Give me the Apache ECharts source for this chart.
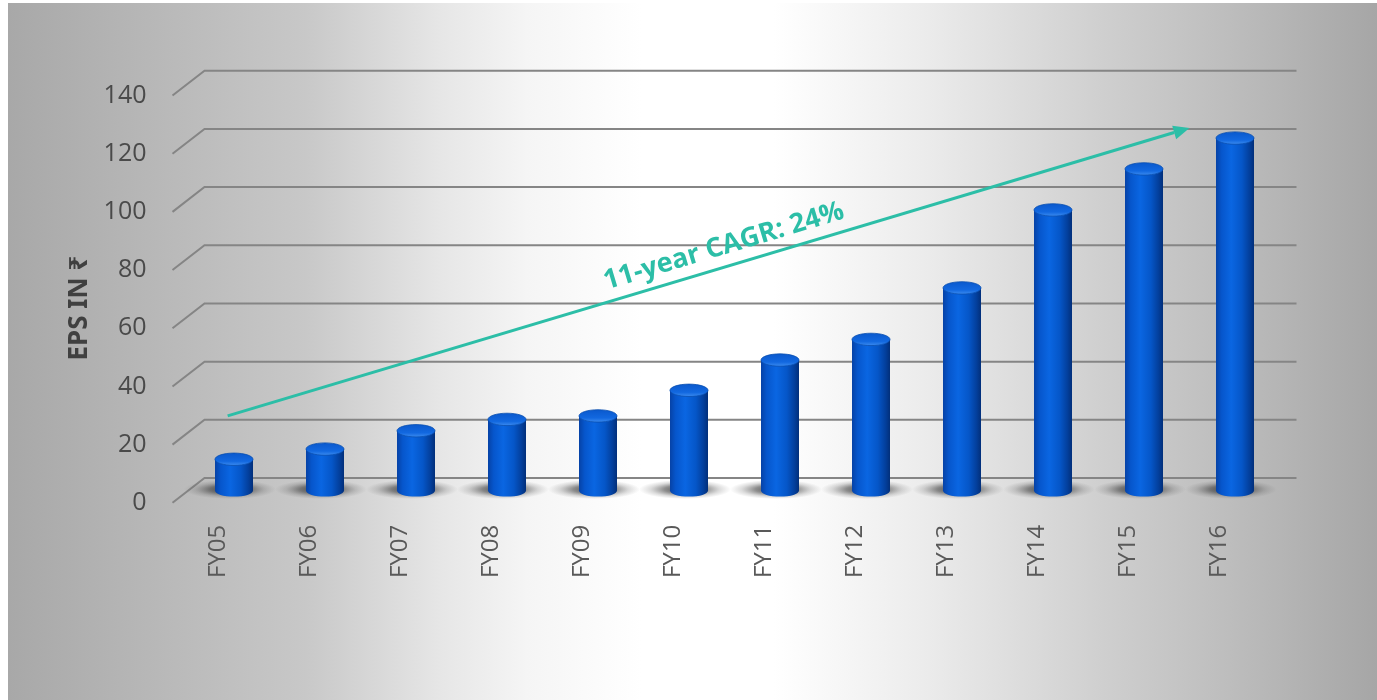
<!DOCTYPE html>
<html>
<head>
<meta charset="utf-8">
<script src="https://cdn.jsdelivr.net/npm/echarts@6/dist/echarts.min.js"></script>
<style>
  html, body { margin: 0; padding: 0; background: #ffffff; }
  #chart { width: 1377px; height: 700px; }
</style>
</head>
<body>
<div id="chart"></div>
<script>
// ---- data ----
const categories = ['FY05', 'FY06', 'FY07', 'FY08', 'FY09', 'FY10', 'FY11', 'FY12', 'FY13', 'FY14', 'FY15', 'FY16'];
const eps = [10.7, 14.2, 20.5, 24.4, 25.6, 34.4, 44.8, 51.9, 69.6, 96.4, 110.5, 121.1];
const yTicks = [0, 20, 40, 60, 80, 100, 120, 140];
const axisName = 'EPS IN ₹';
const cagrText = '11-year CAGR: 24%';
const cagrFrom = [-0.07, 25.6];
const cagrTo = [10.5, 124.6];

// ---- layout (perspective depth offsets) ----
const DX = 16, DY = 12.4;
const FONT = "'Open Sans', 'Noto Sans', sans-serif";
const TEAL = '#2cbea7';

const chart = echarts.init(document.getElementById('chart'), null, { renderer: 'canvas' });

function cylinderItem(params, api) {
  const idx = api.value(0), val = api.value(1);
  const top = api.coord([idx, val]);
  const bot = api.coord([idx, 0]);
  const x = top[0], yTop = top[1], yBot = bot[1];
  const rx = 19, ry = 6.2;
  const bodyGrad = new echarts.graphic.LinearGradient(0, 0, 1, 0, [
    { offset: 0, color: '#0642a6' },
    { offset: 0.15, color: '#0656cc' },
    { offset: 0.4, color: '#0a66e2' },
    { offset: 0.68, color: '#0556c8' },
    { offset: 0.88, color: '#033f9c' },
    { offset: 1, color: '#022f7a' }
  ]);
  const topGrad = new echarts.graphic.LinearGradient(0, 0, 0, 1, [
    { offset: 0, color: '#0a58cc' },
    { offset: 0.65, color: '#1268e0' },
    { offset: 1, color: '#3f8ef0' }
  ]);
  return {
    type: 'group',
    children: [
      {
        type: 'circle',
        x: x - 4, y: yBot - 1, scaleX: 1, scaleY: 0.21,
        shape: { cx: 0, cy: 0, r: 46 },
        style: {
          fill: new echarts.graphic.RadialGradient(0.5, 0.5, 0.5, [
            { offset: 0, color: 'rgba(30,30,30,0.85)' },
            { offset: 0.45, color: 'rgba(50,50,50,0.55)' },
            { offset: 0.75, color: 'rgba(80,80,80,0.2)' },
            { offset: 1, color: 'rgba(100,100,100,0)' }
          ])
        }
      },
      { type: 'ellipse', shape: { cx: x, cy: yBot, rx: rx, ry: ry }, style: { fill: bodyGrad } },
      { type: 'rect', shape: { x: x - rx, y: yTop, width: rx * 2, height: yBot - yTop }, style: { fill: bodyGrad } },
      { type: 'ellipse', shape: { cx: x, cy: yTop, rx: rx, ry: ry }, style: { fill: topGrad, stroke: '#0a4fb0', lineWidth: 0.8 } }
    ]
  };
}

function gridItem(params, api) {
  const cs = params.coordSys;
  const y = api.coord([0, api.value(1)])[1];
  return {
    type: 'polyline',
    shape: { points: [[cs.x - DX, y + DY], [cs.x + DX, y - DY], [cs.x + cs.width + DX, y - DY]] },
    style: { stroke: '#858585', lineWidth: 2, fill: null }
  };
}

function arrowItem(params, api) {
  const p0 = api.coord([api.value(0), api.value(1)]);
  const p1 = api.coord([api.value(2), api.value(3)]);
  const dx = p1[0] - p0[0], dy = p1[1] - p0[1];
  const len = Math.sqrt(dx * dx + dy * dy);
  const ux = dx / len, uy = dy / len;
  const nx = uy, ny = -ux; // normal pointing up-left
  const headL = 16, headW = 7;
  const base = [p1[0] - ux * headL, p1[1] - uy * headL];
  const mid = [(p0[0] + p1[0]) / 2, (p0[1] + p1[1]) / 2];
  const tx = mid[0] + ux * 22 + nx * 20;
  const ty = mid[1] + uy * 22 + ny * 20;
  const ang = Math.atan2(-dy, dx);
  return {
    type: 'group',
    children: [
      { type: 'line', shape: { x1: p0[0], y1: p0[1], x2: base[0], y2: base[1] }, style: { stroke: TEAL, lineWidth: 3 } },
      {
        type: 'polygon',
        shape: { points: [p1, [base[0] + nx * headW, base[1] + ny * headW], [base[0] - nx * headW, base[1] - ny * headW]] },
        style: { fill: TEAL }
      },
      {
        type: 'text',
        x: tx, y: ty, rotation: ang,
        style: {
          text: cagrText, fill: TEAL, font: "bold 27px 'Open Sans', 'Noto Sans', sans-serif",
          align: 'center', verticalAlign: 'middle'
        }
      }
    ]
  };
}

const midLeft = 188.5, midTop = 83.1, midW = 1092, midH = 407.3;

chart.setOption({
  backgroundColor: '#ffffff',
  animation: false,
  graphic: [{
    type: 'rect', z: -100, silent: true,
    shape: { x: 8, y: 3, width: 1369, height: 697 },
    style: {
      fill: new echarts.graphic.LinearGradient(0, 0, 1, 0, [
        { offset: 0, color: '#a8a8a8' },
        { offset: 0.218, color: '#c8c8c8' },
        { offset: 0.315, color: '#e6e6e6' },
        { offset: 0.379, color: '#f5f5f5' },
        { offset: 0.463, color: '#ffffff' },
        { offset: 0.559, color: '#ffffff' },
        { offset: 0.668, color: '#ececec' },
        { offset: 0.795, color: '#d0d0d0' },
        { offset: 0.892, color: '#bdbdbd' },
        { offset: 1, color: '#a6a6a6' }
      ])
    }
  }],
  grid: [
    { left: midLeft - DX, top: midTop + DY, width: midW, height: midH, containLabel: false },
    { left: midLeft, top: midTop, width: midW, height: midH, containLabel: false }
  ],
  xAxis: [
    {
      gridIndex: 0, type: 'category', data: categories, boundaryGap: true,
      axisLine: { show: false }, axisTick: { show: false }, splitLine: { show: false },
      axisLabel: { rotate: 90, margin: 22, fontSize: 24, color: '#595959', fontFamily: FONT, interval: 0 }
    },
    {
      gridIndex: 1, type: 'value', min: -0.5, max: 11.5, show: false,
      splitLine: { show: false }
    }
  ],
  yAxis: [
    {
      gridIndex: 0, type: 'value', min: 0, max: 140, interval: 20,
      axisLine: { show: false }, axisTick: { show: false }, splitLine: { show: false },
      axisLabel: { margin: 26, fontSize: 25, color: '#4a4a4a', fontFamily: FONT },
      name: axisName, nameLocation: 'middle', nameRotate: 90, nameGap: 67,
      nameTextStyle: { fontSize: 26, fontWeight: 'bold', color: '#404040', fontFamily: "'Noto Sans', 'Open Sans', sans-serif", padding: [0, 18, 0, 0] }
    },
    {
      gridIndex: 1, type: 'value', min: 0, max: 140, interval: 20, show: false,
      splitLine: { show: false }
    }
  ],
  series: [
    {
      type: 'custom', name: 'grid', xAxisIndex: 1, yAxisIndex: 1, clip: false, silent: true, z: 1,
      renderItem: gridItem,
      data: yTicks.map(v => [0, v])
    },
    {
      type: 'custom', name: 'EPS', xAxisIndex: 1, yAxisIndex: 1, clip: false, z: 3,
      renderItem: cylinderItem,
      data: eps.map((v, i) => [i, v])
    },
    {
      type: 'custom', name: 'CAGR', xAxisIndex: 1, yAxisIndex: 1, clip: false, silent: true, z: 4,
      renderItem: arrowItem,
      data: [[cagrFrom[0], cagrFrom[1], cagrTo[0], cagrTo[1]]]
    }
  ]
});
</script>
</body>
</html>
